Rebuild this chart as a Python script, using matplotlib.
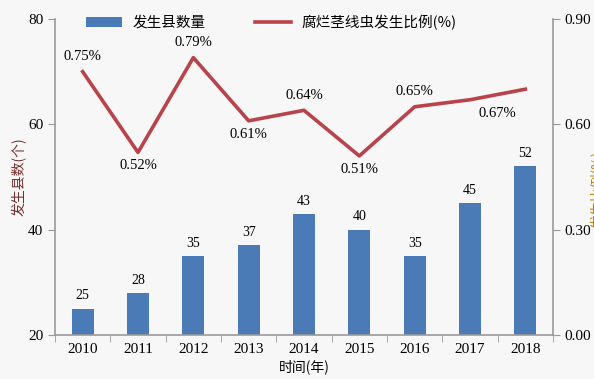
import matplotlib
matplotlib.use("Agg")
import matplotlib.pyplot as plt
from matplotlib.ticker import FixedLocator, NullFormatter

years = ["2010", "2011", "2012", "2013", "2014", "2015", "2016", "2017", "2018"]
counts = [25, 28, 35, 37, 43, 40, 35, 45, 52]
ratios = [0.75, 0.52, 0.79, 0.61, 0.64, 0.51, 0.65, 0.67, 0.70]
ratio_labels = ["0.75%", "0.52%", "0.79%", "0.61%", "0.64%", "0.51%", "0.65%", "0.67%", ""]
label_pos = ["above", "below", "above", "below", "above", "below", "above", "below", ""]

serif = ["Liberation Serif", "DejaVu Serif"]
cjk = ["Noto Sans CJK SC", "DejaVu Sans"]
plt.rcParams["font.family"] = serif

bg = "#f7f7f7"
bar_color = "#4a7bb7"
line_color = "#b9434b"
spine_color = "#9a9a9a"

fig = plt.figure(figsize=(5.94, 3.79), dpi=100, facecolor=bg)
ax = fig.add_axes([55/594, 1-335/379, (553-55)/594, (335-19)/379])
ax.set_facecolor(bg)
x = list(range(len(years)))
bars = ax.bar(x, counts, width=0.4, color=bar_color, zorder=2)
ax.set_ylim(20, 80)
ax.set_xlim(-0.5, len(years)-0.5)
ax.set_yticks([20, 40, 60, 80])
ax.set_xticks(x)
ax.set_xticklabels(years)
ax.xaxis.set_minor_locator(FixedLocator([i - 0.5 for i in range(len(years)+1)]))
ax.xaxis.set_minor_formatter(NullFormatter())
ax.tick_params(axis="x", which="major", length=0, labelsize=11, pad=6)
ax.tick_params(axis="x", which="minor", length=5, color=spine_color, direction="out")
ax.tick_params(axis="y", length=5, color=spine_color, labelsize=11, direction="out")
for s in ["top", "right"]:
    ax.spines[s].set_visible(False)
for s in ["left", "bottom"]:
    ax.spines[s].set_color(spine_color)
    ax.spines[s].set_linewidth(1.2)

for xi, c in zip(x, counts):
    ax.text(xi, c + 1.2, str(c), ha="center", va="bottom", fontsize=10, family=serif)

ax.set_ylabel("发生县数(个)", family=cjk, fontsize=10, color="#7a2a2a")
ax.yaxis.set_label_coords(-0.056, 0.50)
ax.set_xlabel("时间(年)", family=cjk, fontsize=10, labelpad=2)

ax2 = ax.twinx()
ax2.set_ylim(0, 0.9)
ax2.set_yticks([0.0, 0.3, 0.6, 0.9])
ax2.set_yticklabels(["0.00", "0.30", "0.60", "0.90"])
ax2.tick_params(axis="y", length=5, color=spine_color, labelsize=11, direction="out")
for s in ["top", "left", "bottom"]:
    ax2.spines[s].set_visible(False)
ax2.spines["right"].set_color(spine_color)
ax2.spines["right"].set_linewidth(1.2)
ln, = ax2.plot(x, ratios, color=line_color, linewidth=2.6, zorder=3)

for xi, r, lab, pos in zip(x, ratios, ratio_labels, label_pos):
    if not lab:
        continue
    if pos == "above":
        ax2.annotate(lab, (xi, r), xytext=(0, 6), textcoords="offset points",
                     ha="center", va="bottom", fontsize=10.5)
    else:
        dx = 20 if xi == 7 else 0
        ax2.annotate(lab, (xi, r), xytext=(dx, -5), textcoords="offset points",
                     ha="center", va="top", fontsize=10.5)

leg = ax.legend([bars, ln], ["发生县数量", "腐烂茎线虫发生比例(%)"], loc="upper left",
                bbox_to_anchor=(0.035, 1.055), ncol=2, frameon=False,
                prop={"family": cjk, "size": 10.5}, handlelength=2.5,
                columnspacing=3.4, handletextpad=0.7)

fig.text(591/594, 0.5, "发生比例(%)", rotation=90, family=cjk, fontsize=10,
         color="#b8860b", ha="left", va="center")

fig.savefig("out.png", dpi=100, facecolor=bg)
